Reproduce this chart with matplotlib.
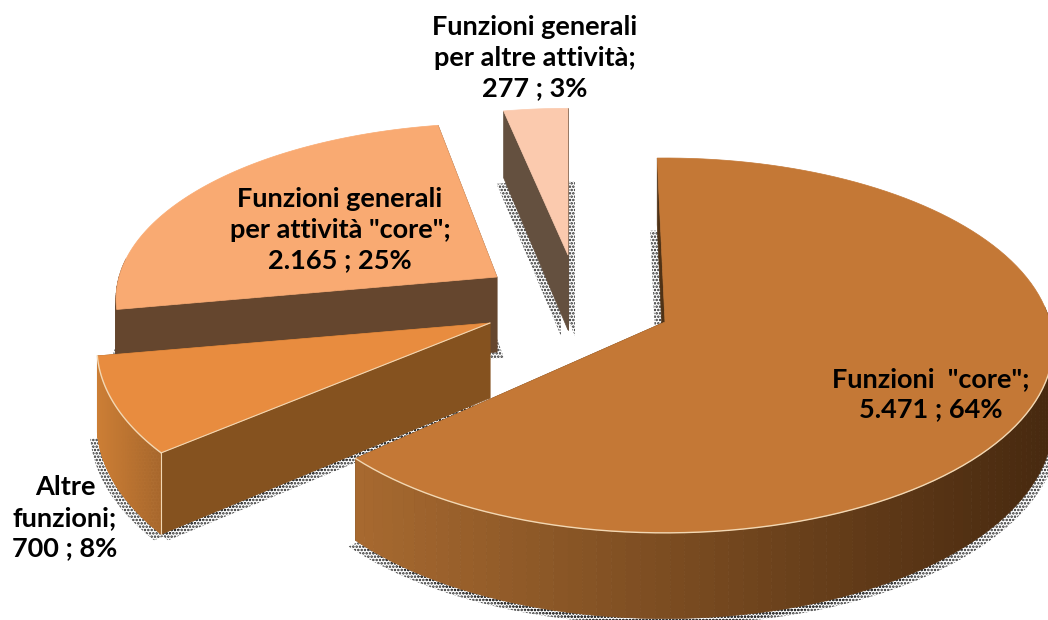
import numpy as np
import matplotlib
matplotlib.use("Agg")
import matplotlib.pyplot as plt
from matplotlib.colors import to_rgb
from matplotlib.patches import Polygon

names = ['Funzioni  "core"', "Altre\nfunzioni", 'Funzioni generali\nper attività "core"',
         "Funzioni generali\nper altre attività"]
values = [5471, 700, 2165, 277]

# drawing order is back to front, so core goes last
order = [3, 2, 1, 0]
apex = [(665, 322), (490, 323), (497, 277), (568, 255)]
radius_x = [385, 390, 378, 360]
radius_y = [184.5, 190, 173, 165]
rot = [-1.3, 2.3, 1.5, 0.0]
top_col = ["#c47836", "#e88c3f", "#f9aa72", "#fbcaae"]
face_col = ["#4f3216", "#85521f", "#65462e", "#64503f"]
rim_left = ["#a86a30", "#cc7e35", "#65462e", "#64503f"]
rim_right = ["#47290f", "#a9682c", "#65462e", "#64503f"]
label_xy = [(931, 394), (65, 518), (340, 230), (535, 58)]

K = 0.125
DEPTH = 75
EDGE = "#f2d8b4"

plt.rcParams["font.family"] = ["Lato", "DejaVu Sans"]
plt.rcParams["hatch.linewidth"] = 1.2

fig = plt.figure(figsize=(10.48, 6.2), dpi=100)
ax = fig.add_axes([0, 0, 1, 1])
ax.set_xlim(0, 1048)
ax.set_ylim(620, 0)
ax.axis("off")


def project(i, th, r=1.0, z=0.0):
    """clockwise angle from the back of the pie -> pixel, with a bit of perspective"""
    x = np.sin(th) * r
    f = -np.cos(th) * r
    s = 1 / (1 - K * f)
    return np.column_stack([apex[i][0] + radius_x[i] * x * s,
                            apex[i][1] + (radius_y[i] * f + z) * s])


total = sum(values)
edges = np.cumsum([0] + values) / total * 2 * np.pi
spans = [(edges[i] + np.radians(rot[i]), edges[i + 1] + np.radians(rot[i]))
         for i in range(len(values))]


def arc(i, z=0.0):
    th = np.linspace(spans[i][0], spans[i][1], 120)
    return project(i, th, 1.0, z)


# stippled shadow under each slice
for i in order:
    pts = arc(i, DEPTH)
    base = project(i, np.array([0.0]), 0.0, DEPTH)
    poly = np.vstack([base, pts])
    for dx, dy in [(-7, 6), (7, 6)]:
        ax.add_patch(Polygon(poly + [dx, dy], closed=True, fill=False, lw=0,
                             edgecolor="#222222", hatch=".....", zorder=1))

z = 2
for i in order:
    cx = project(i, np.array([0.0]), 0.0, 0.0)
    cb = project(i, np.array([0.0]), 0.0, DEPTH)
    a = arc(i)
    b = arc(i, DEPTH)
    # cut faces, the end one first because it sits behind
    for p, q in [(a[-1], b[-1]), (a[0], b[0])]:
        ax.add_patch(Polygon([cx[0], p, q, cb[0]], closed=True, fc=face_col[i],
                             ec=face_col[i], lw=0.5, zorder=z))
    # outer rim, shaded by x
    th = np.linspace(spans[i][0], spans[i][1], 120)
    xmin, xmax = a[:, 0].min(), a[:, 0].max()
    c0, c1 = np.array(to_rgb(rim_left[i])), np.array(to_rgb(rim_right[i]))
    for n in range(len(th) - 1):
        if -np.cos(th[n]) < -0.1:
            continue
        t = (a[n, 0] - xmin) / (xmax - xmin)
        col = c0 + (c1 - c0) * t
        ax.add_patch(Polygon([a[n], a[n + 1], b[n + 1], b[n]], closed=True,
                             fc=col, ec=col, lw=0.5, zorder=z))
    ax.add_patch(Polygon(np.vstack([cx, a]), closed=True, fc=top_col[i],
                         ec=top_col[i], lw=0.5, zorder=z))
    # thin light edge along the lower part of the top surface
    keep = -np.cos(th) > 0.0
    if keep.any() and i < 2:
        ax.plot(a[keep, 0], a[keep, 1], color=EDGE, lw=1, zorder=z)
    if i == 1:
        ax.plot([cx[0, 0], a[0, 0]], [cx[0, 1], a[0, 1]], color=EDGE, lw=0.8, zorder=z)
        ax.plot([a[0, 0], b[0, 0]], [a[0, 1], b[0, 1]], color=EDGE, lw=0.8, zorder=z)
    z += 1

for i in range(len(values)):
    pct = round(values[i] / total * 100)
    val = f"{values[i]:,}".replace(",", ".")
    ax.text(label_xy[i][0], label_xy[i][1], f"{names[i]};\n{val} ; {pct}%",
            ha="center", va="center", fontsize=19.5, fontweight="bold",
            color="black", linespacing=1.33, zorder=20)

fig.savefig("out.png", dpi=100)
